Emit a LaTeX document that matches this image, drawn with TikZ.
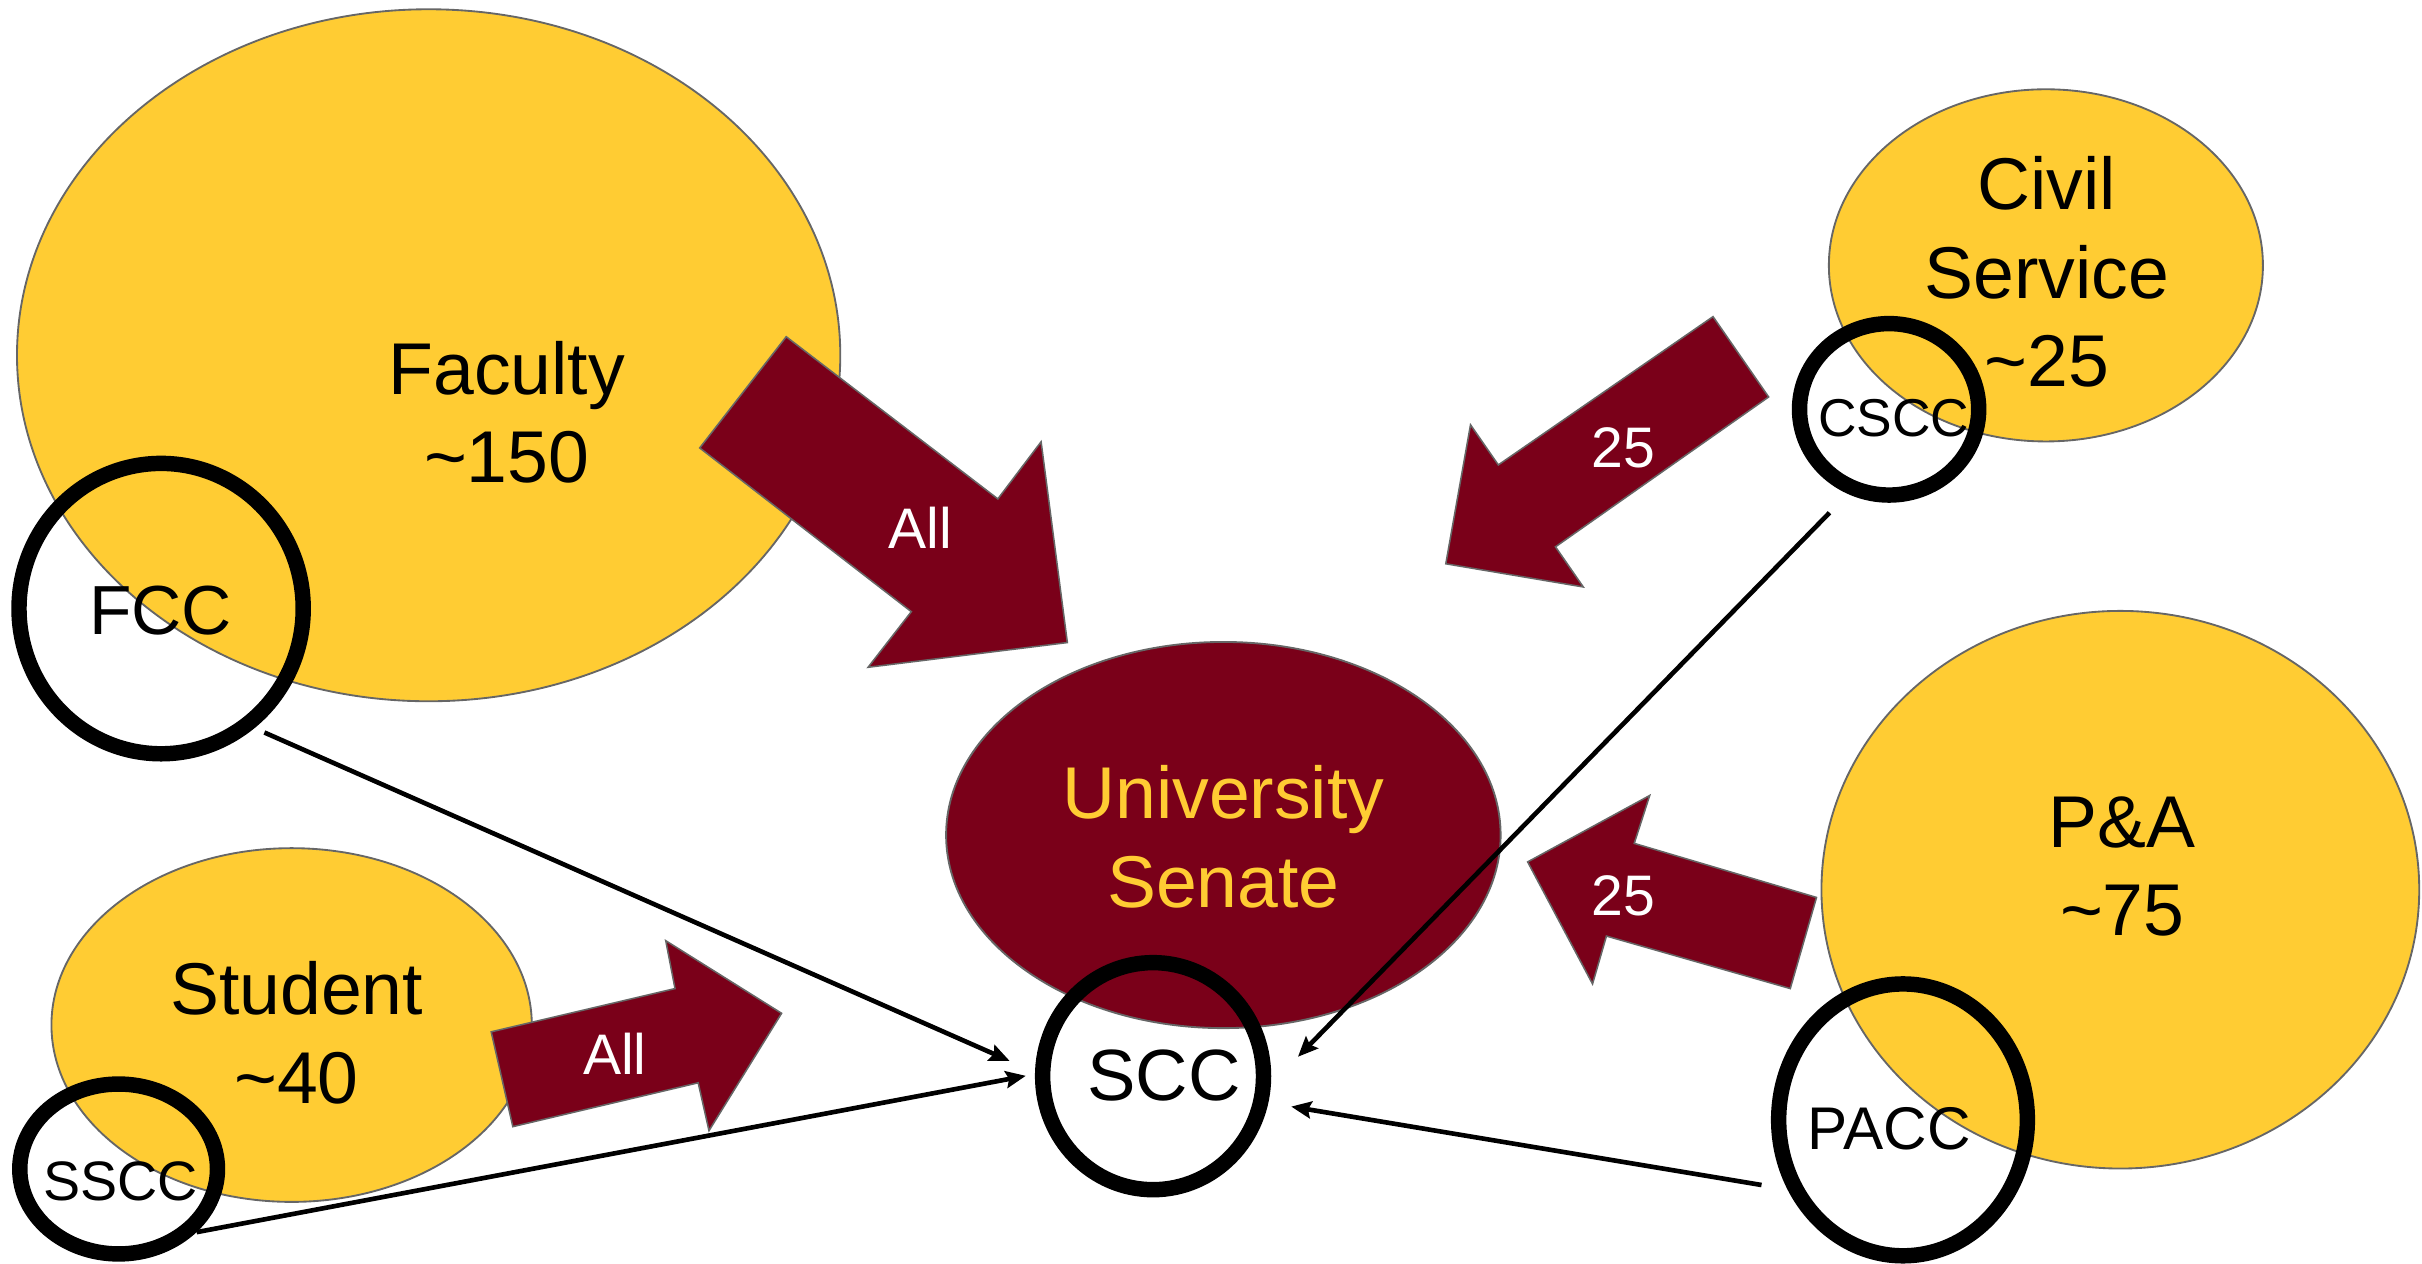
\documentclass[tikz,border=0pt]{standalone}
\usepackage{fontspec}
\setmainfont{Liberation Sans}
\usetikzlibrary{arrows.meta,shapes.geometric}
\definecolor{umn gold}{HTML}{FFCC33}
\definecolor{umn maroon}{HTML}{7A0019}
\colorlet{outline color}{black!60}
\tikzset{
    x={1pt},
    y={-1pt},
    group/.style={
        ellipse, fill=umn gold, draw=outline color,
        line width={1.2pt},
        inner sep=0pt,
    },
    senate/.style={
        group, fill=umn maroon,
    },
    group label/.style={
        font={\fontsize{47.5}{57.5}\selectfont},
        align=center,
        inner sep=0pt,
        text={#1},
    },
    group label/.default={black},
    committee/.style={
        ellipse, draw=black,
        line width={10pt},
        inner sep=0pt,
    },
    committee label/.style={
        font={\fontsize{#1}{#1}\selectfont},
        inner sep=0pt,
    },
    committee label/.default={47},
    seats/.style={
        fill=umn maroon, draw=outline color,
        line width={1pt},
    },
    seats label/.style={
        font={\fontsize{37}{37}\selectfont},
        text=white,
        inner sep=0pt,
    },
    link/.style 2 args={
        draw=black, line width={3pt},
        -{Stealth[length=13pt,width=11pt,inset=2pt]},
        shorten <={#1}, shorten >={#2},
    },
}

\begin{document}
\begin{tikzpicture}
\useasboundingbox (0,0) rectangle (1568,818);
% constituencies
\node[group, minimum width=533, minimum height=448] (faculty) at (277.5,230) {};
\node[group, minimum width=281, minimum height=228] (civil) at (1324.5,171.8) {};
\node[group, minimum width=311, minimum height=229] (student) at (188.8,663.6) {};
\node[group, minimum width=387, minimum height=361] (pa) at (1372.7,576) {};
\node[senate, minimum width=359, minimum height=250] (senate) at (792,540.6) {};
% seats
\path[seats] (509,218) -- (646,323) -- (674,286) -- (691,416) -- (562,432) -- (590,396) -- (453,290) -- cycle;
\path[seats] (1109,205) -- (1145,257) -- (1007,354) -- (1025,380) -- (936,365) -- (952,275) -- (970,301) -- cycle;
\path[seats] (318,668) -- (437,640) -- (431,609) -- (506,656) -- (459,732) -- (452,701) -- (332,729.4) -- cycle;
\path[seats] (1176,581) -- (1058,546) -- (1068,515) -- (989,558) -- (1031,637) -- (1040,606) -- (1159,640) -- cycle;
\node[seats label] (faculty seats) at (596,342) {All};
\node[seats label] (civil seats) at (1051,290) {25};
\node[seats label] (student seats) at (398,682.5) {All};
\node[seats label] (pa seats) at (1051,580) {25};
% consultative committees
\node[committee, minimum width=184, minimum height=188] (fcc) at (104.3,394) {};
\node[committee, minimum width=116, minimum height=111] (cscc) at (1223,265) {};
\node[committee, minimum width=128, minimum height=110] (sscc) at (76.8,756.8) {};
\node[committee, minimum width=143, minimum height=147] (scc) at (746.5,696.7) {};
\node[committee, minimum width=161, minimum height=176] (pacc) at (1232,725) {};
% links to SCC
\draw[link={7pt}{18pt}] (fcc.-52) -- (scc.178);
\draw[link={0pt}{6pt}] (sscc.-39) -- (scc.179);
\draw[link={17pt}{25pt}] (cscc.-116) -- (scc.-4);
\draw[link={17pt}{15pt}] (pacc.-149) -- (scc.-13.5);
% labels
\node[group label] (faculty text) at (328,266.9) {Faculty\\\textasciitilde150};
\node[group label] (civil text) at (1325,176) {Civil\\Service\\\textasciitilde25};
\node[group label] (student text) at (192,668.4) {Student\\\textasciitilde40};
\node[group label] (pa text) at (1374,561) {P\&A\\\textasciitilde75};
\node[group label={umn gold}] (senate text) at (792,541.6) {University\\Senate};
\node[committee label=45] (fcc text) at (104,395) {FCC};
\node[committee label=34.5] (cscc text) at (1226,271) {CSCC};
\node[committee label=36] (sscc text) at (78,765) {SSCC};
\node[committee label=47] (scc text) at (753.5,696.3) {SCC};
\node[committee label=39] (pacc text) at (1223,731) {PACC};
\end{tikzpicture}
\end{document}
